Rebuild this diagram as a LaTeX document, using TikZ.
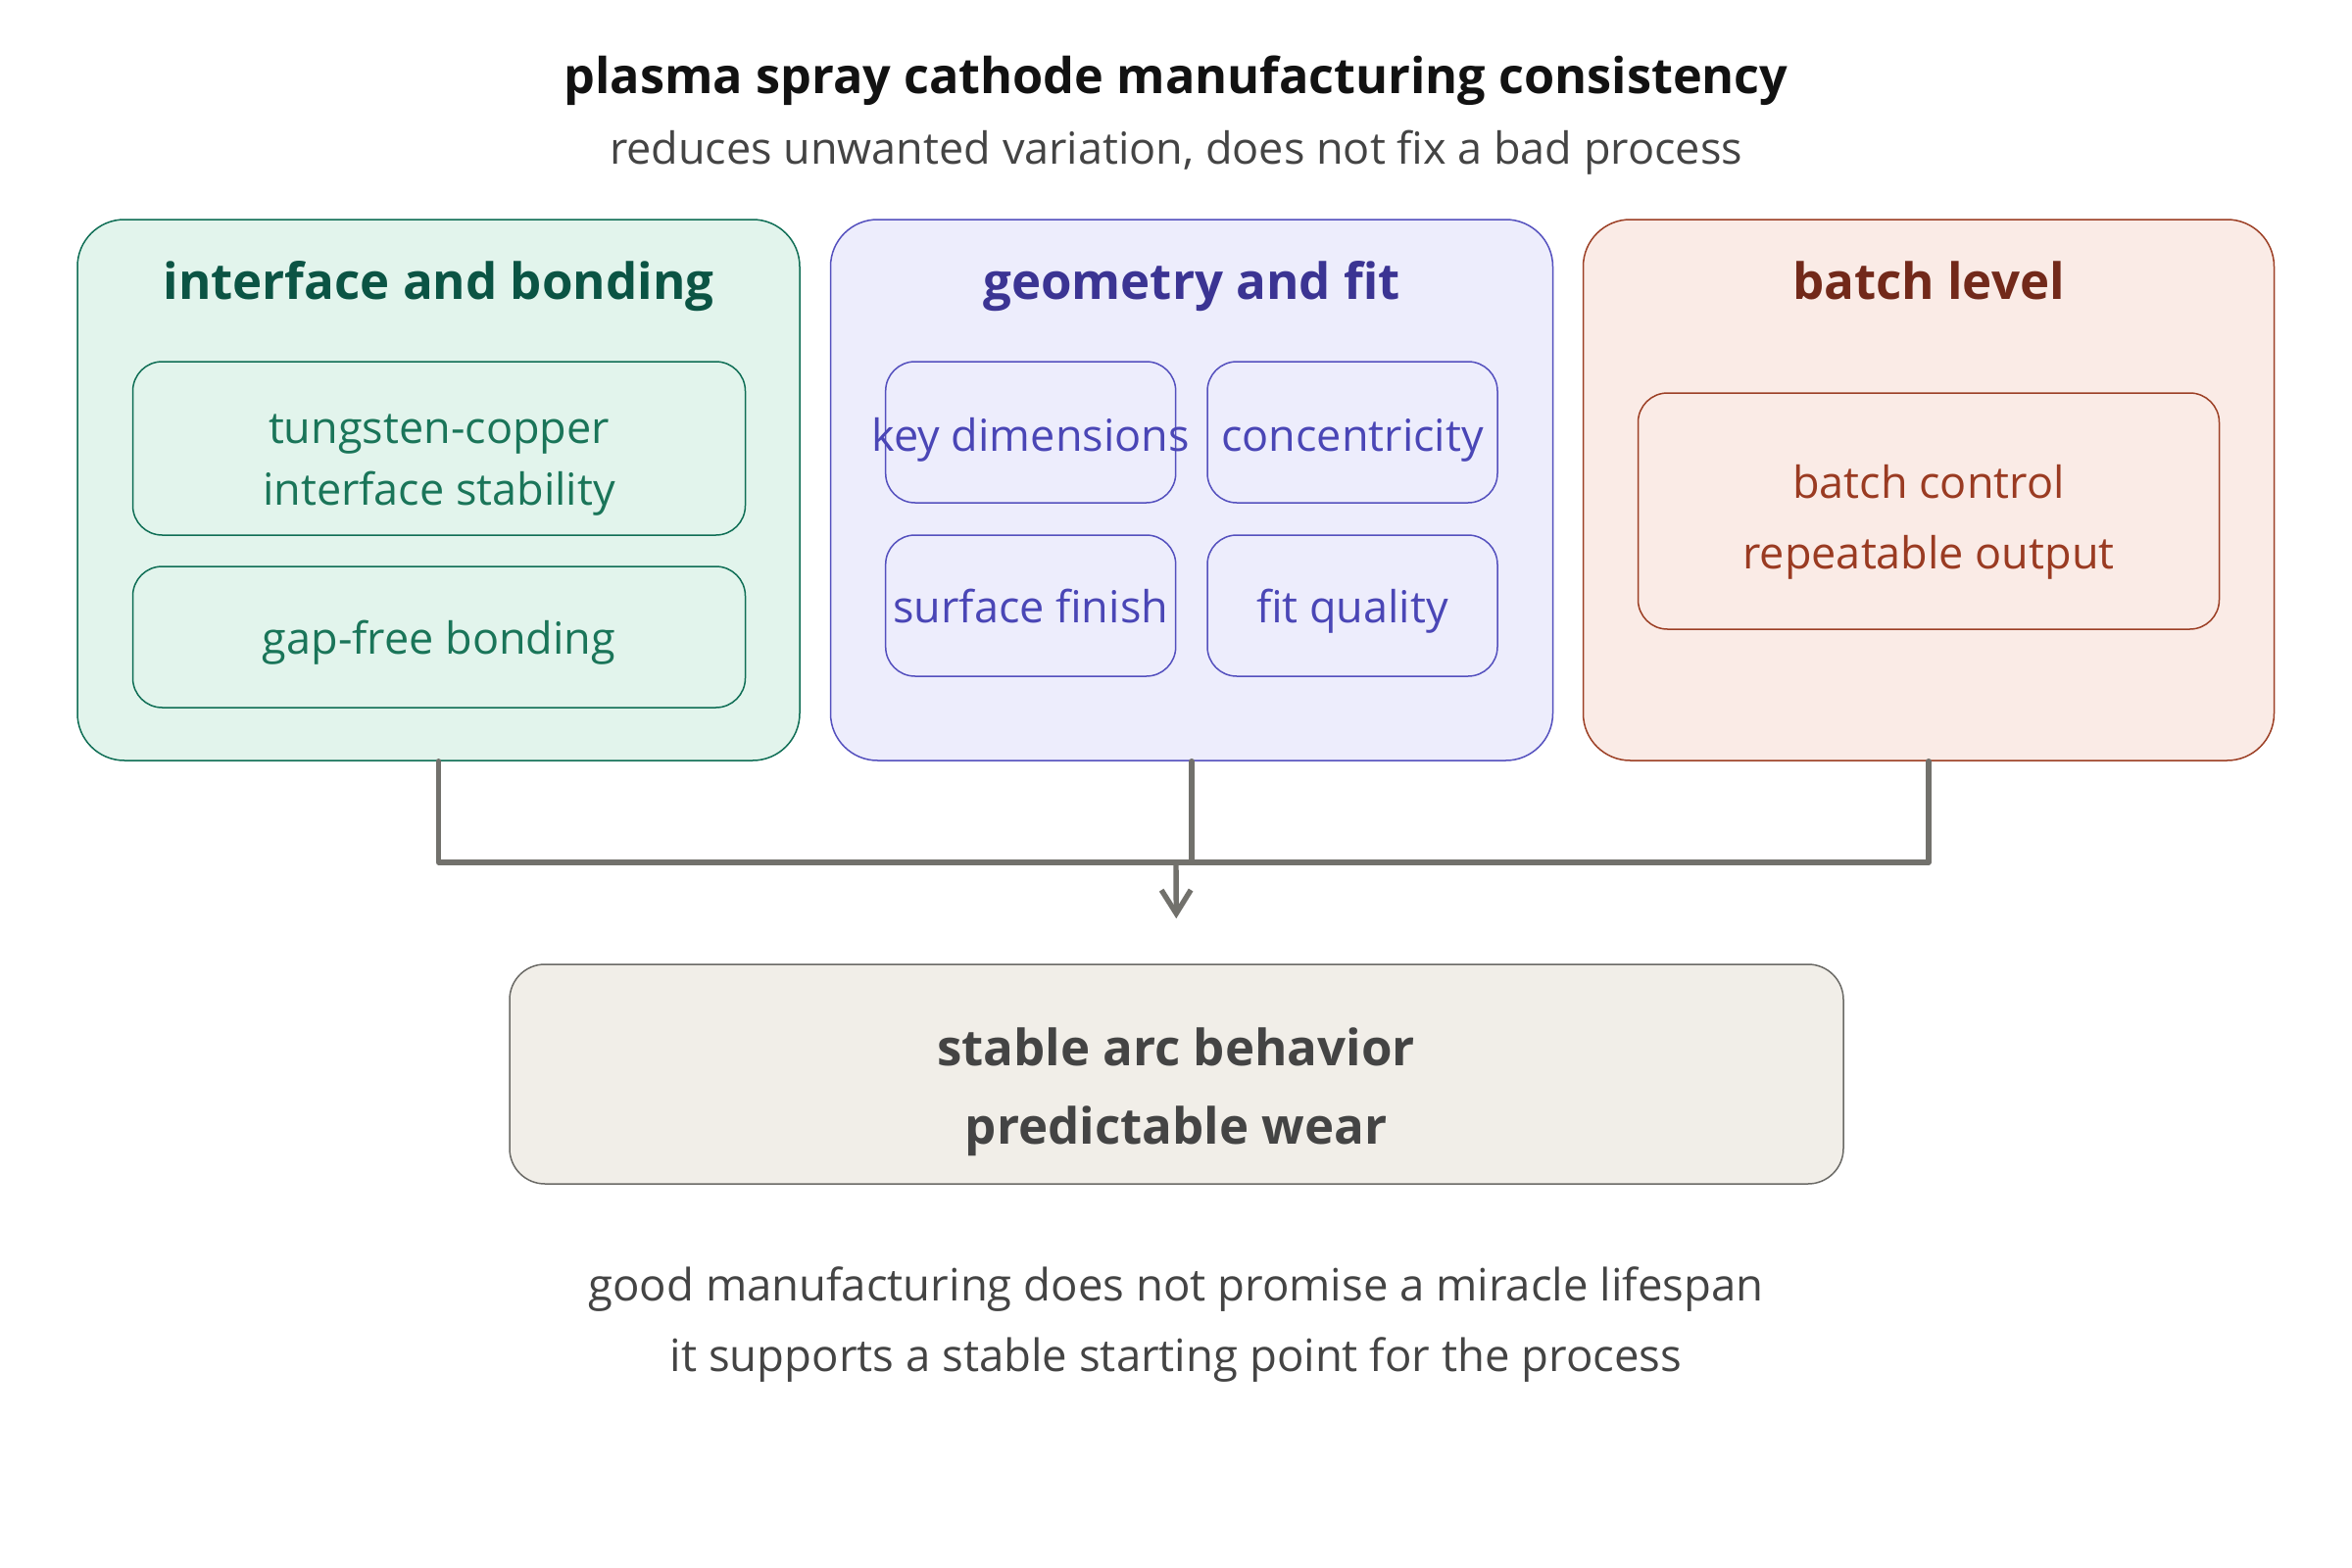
\documentclass[tikz,border=0pt]{standalone}
\usepackage{fontspec}
\setmainfont{Open Sans}
\usetikzlibrary{arrows.meta}
\definecolor{gfill}{HTML}{E2F4EC}
\definecolor{gline}{HTML}{0F6E55}
\definecolor{gtitle}{HTML}{0B5444}
\definecolor{gtext}{HTML}{1A7559}
\definecolor{pfill}{HTML}{EDEDFC}
\definecolor{pline}{HTML}{5450BE}
\definecolor{ptitle}{HTML}{3B3493}
\definecolor{ptext}{HTML}{4A46B6}
\definecolor{ofill}{HTML}{FAEBE6}
\definecolor{oline}{HTML}{9C3F25}
\definecolor{otitle}{HTML}{72291A}
\definecolor{otext}{HTML}{9A3B22}
\definecolor{bfill}{HTML}{F1EEE8}
\definecolor{bline}{HTML}{6B6A66}
\definecolor{dtext}{HTML}{444444}
\definecolor{conncol}{HTML}{72716C}
\tikzset{
  outerbox/.style={draw, line width=0.75pt, rounded corners=24pt, inner sep=0pt},
  innerbox/.style={draw, line width=0.75pt, rounded corners=15pt, inner sep=0pt},
  bodytxt/.style={font=\fontsize{22.5}{31}\selectfont, anchor=base, inner sep=0pt},
  boldtxt/.style={font=\fontsize{25.5}{41}\selectfont\bfseries, anchor=base, inner sep=0pt},
  conn/.style={draw=conncol, line width=2.7pt, line cap=round, line join=round},
}
\begin{document}
\begin{tikzpicture}[x=0.5pt,y=-0.5pt]
\path[use as bounding box, fill=white] (0,0) rectangle (2400,1600);

% title
\node[boldtxt, text=black!93, font=\fontsize{25.2}{41}\selectfont\bfseries] (title) at (1200,96) {plasma spray cathode manufacturing consistency};
\node[bodytxt, text=dtext] (subtitle) at (1200,168) {reduces unwanted variation, does not fix a bad process};

% green group
\node[outerbox, draw=gline, fill=gfill, minimum width=368.5pt, minimum height=276pt] (gbox) at (447.5,500) {};
\node[boldtxt, text=gtitle] (gtitle) at (447.5,305) {interface and bonding};
\node[innerbox, draw=gline, fill=gfill, minimum width=312.5pt, minimum height=88.5pt] (g1) at (448,457.5) {};
\node[bodytxt, text=gtext] (g1a) at (448,452.5) {tungsten-copper};
\node[bodytxt, text=gtext] (g1b) at (448,515.5) {interface stability};
\node[innerbox, draw=gline, fill=gfill, minimum width=312.5pt, minimum height=72pt] (g2) at (448,650) {};
\node[bodytxt, text=gtext] (g2t) at (448,667) {gap-free bonding};

% purple group
\node[outerbox, draw=pline, fill=pfill, minimum width=368.5pt, minimum height=276pt] (pbox) at (1216,500) {};
\node[boldtxt, text=ptitle] (ptitle) at (1216,305) {geometry and fit};
\node[innerbox, draw=pline, fill=pfill, minimum width=148pt, minimum height=72pt] (p1) at (1051.7,441) {};
\node[bodytxt, text=ptext] (p1t) at (1051.7,460) {key dimensions};
\node[innerbox, draw=pline, fill=pfill, minimum width=148pt, minimum height=72pt] (p2) at (1380,441) {};
\node[bodytxt, text=ptext] (p2t) at (1380,460) {concentricity};
\node[innerbox, draw=pline, fill=pfill, minimum width=148pt, minimum height=72pt] (p3) at (1051.7,618) {};
\node[bodytxt, text=ptext] (p3t) at (1051.7,635.5) {surface finish};
\node[innerbox, draw=pline, fill=pfill, minimum width=148pt, minimum height=72pt] (p4) at (1380,618) {};
\node[bodytxt, text=ptext] (p4t) at (1380,635.5) {fit quality};

% orange group
\node[outerbox, draw=oline, fill=ofill, minimum width=352.5pt, minimum height=276pt] (obox) at (1968,500) {};
\node[boldtxt, text=otitle] (otitle) at (1968,305) {batch level};
\node[innerbox, draw=oline, fill=ofill, minimum width=296.5pt, minimum height=120.5pt] (o1) at (1968,521.5) {};
\node[bodytxt, text=otext] (o1a) at (1968,508) {batch control};
\node[bodytxt, text=otext] (o1b) at (1968,580) {repeatable output};

% result box
\node[outerbox, rounded corners=18pt, draw=bline, fill=bfill, minimum width=680.5pt, minimum height=112pt] (res) at (1200.5,1096) {};
\node[boldtxt, text=dtext] (resa) at (1200,1087) {stable arc behavior};
\node[boldtxt, text=dtext] (resb) at (1200,1167) {predictable wear};

% footer
\node[bodytxt, text=dtext, font=\fontsize{22.75}{31}\selectfont] (foota) at (1200,1327) {good manufacturing does not promise a miracle lifespan};
\node[bodytxt, text=dtext, font=\fontsize{22.75}{31}\selectfont] (footb) at (1200,1399) {it supports a stable starting point for the process};

% connectors
\coordinate (bus) at (1200,880);
\draw[conn] (gbox.south) -- (gbox.south |- bus) -- (obox.south |- bus) -- (obox.south);
\draw[conn] (pbox.south) -- (pbox.south |- bus);
\draw[conn, -{Straight Barb[length=12pt,width=15pt]}, shorten >=23pt] (bus) -- (res.north);
\end{tikzpicture}
\end{document}
